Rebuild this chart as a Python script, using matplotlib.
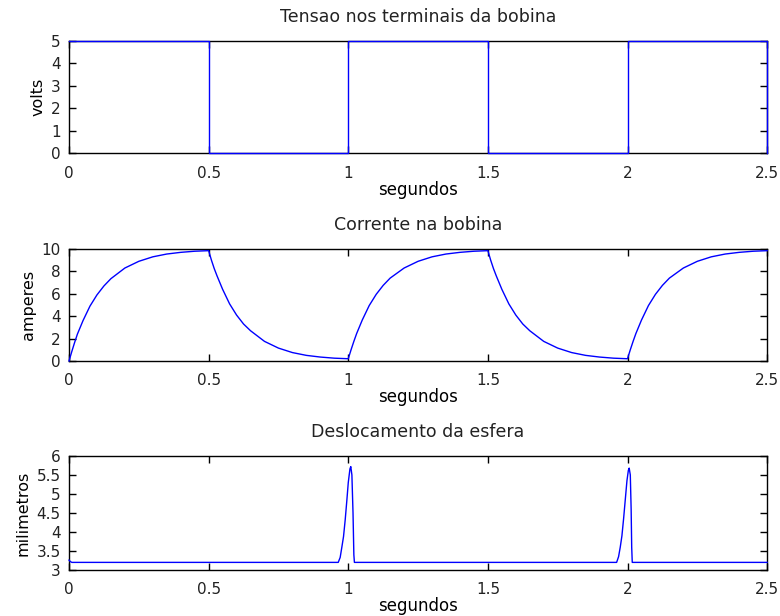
import numpy as np
import matplotlib
matplotlib.use("Agg")
import matplotlib.pyplot as plt

# Tensao aplicada na bobina (onda quadrada)
t_tensao = [0, 0.5, 0.5, 1.0, 1.0, 1.5, 1.5, 2.0, 2.0, 2.5, 2.5]
tensao = [5, 5, 0, 0, 5, 5, 0, 0, 5, 5, 0]

# Corrente na bobina
t_corrente = [0, 0.01, 0.02, 0.03, 0.05, 0.075, 0.1, 0.125, 0.15, 0.2, 0.25, 0.3, 0.35, 0.4, 0.45, 0.5,
              0.51, 0.52, 0.53, 0.55, 0.575, 0.6, 0.625, 0.65, 0.7, 0.75, 0.8, 0.85, 0.9, 0.95, 1.0,
              1.01, 1.02, 1.03, 1.05, 1.075, 1.1, 1.125, 1.15, 1.2, 1.25, 1.3, 1.35, 1.4, 1.45, 1.5,
              1.51, 1.52, 1.53, 1.55, 1.575, 1.6, 1.625, 1.65, 1.7, 1.75, 1.8, 1.85, 1.9, 1.95, 2.0,
              2.01, 2.02, 2.03, 2.05, 2.075, 2.1, 2.125, 2.15, 2.2, 2.25, 2.3, 2.35, 2.4, 2.45, 2.5]
corrente = [0, 0.85, 1.65, 2.4, 3.6, 4.9, 5.9, 6.7, 7.35, 8.3, 8.9, 9.3, 9.55, 9.7, 9.8, 9.85,
            9.0, 8.25, 7.6, 6.4, 5.1, 4.1, 3.3, 2.7, 1.75, 1.15, 0.75, 0.5, 0.35, 0.25, 0.2,
            1.0, 1.75, 2.45, 3.65, 4.95, 5.95, 6.75, 7.4, 8.3, 8.9, 9.3, 9.55, 9.7, 9.8, 9.85,
            9.0, 8.25, 7.6, 6.4, 5.1, 4.1, 3.3, 2.7, 1.75, 1.15, 0.75, 0.5, 0.35, 0.25, 0.2,
            1.0, 1.75, 2.45, 3.65, 4.95, 5.95, 6.75, 7.4, 8.3, 8.9, 9.3, 9.55, 9.7, 9.8, 9.85]

# Deslocamento da esfera
t_desloc = [0, 0.005, 0.01, 0.964, 0.971, 0.977, 0.983, 0.989, 0.995, 1.0, 1.006, 1.009,
            1.013, 1.017, 1.020, 1.022, 1.961, 1.968, 1.974, 1.980, 1.986, 1.992, 1.998,
            2.003, 2.006, 2.010, 2.013, 2.015, 2.017, 2.5]
desloc = [3.26, 3.22, 3.2, 3.2, 3.33, 3.6, 3.88, 4.32, 4.84, 5.3, 5.66, 5.72,
          5.5, 4.5, 3.4, 3.2, 3.2, 3.35, 3.6, 3.9, 4.35, 4.85, 5.35,
          5.62, 5.68, 5.5, 4.6, 3.6, 3.2, 3.2]

plt.rcParams['font.family'] = 'DejaVu Sans'
plt.rcParams['text.color'] = '#222222'

fig = plt.figure(figsize=(7.8, 6.16), dpi=100)

x_ticks = [0, 0.5, 1, 1.5, 2, 2.5]
x_labels = ["0", "0.5", "1", "1.5", "2", "2.5"]

paineis = [
    ([0.0885, 0.7516, 0.895, 0.1818], t_tensao, tensao, "Tensao nos terminais da bobina", "volts",
     (0, 5), [0, 1, 2, 3, 4, 5], ["0", "1", "2", "3", "4", "5"]),
    ([0.0885, 0.4140, 0.895, 0.1818], t_corrente, corrente, "Corrente na bobina", "amperes",
     (0, 10), [0, 2, 4, 6, 8, 10], ["0", "2", "4", "6", "8", "10"]),
    ([0.0885, 0.0747, 0.895, 0.1851], t_desloc, desloc, "Deslocamento da esfera", "milimetros",
     (3, 6), [3, 3.5, 4, 4.5, 5, 5.5, 6], ["3", "3.5", "4", "4.5", "5", "5.5", "6"]),
]

for rect, x, y, titulo, ylab, ylim, yt, ytl in paineis:
    ax = fig.add_axes(rect)
    ax.plot(x, y, color=(0, 0, 1), linewidth=1.0, clip_on=False, zorder=3)
    ax.set_xlim(0, 2.5)
    ax.set_ylim(*ylim)
    ax.set_xticks(x_ticks)
    ax.set_xticklabels(x_labels)
    ax.set_yticks(yt)
    ax.set_yticklabels(ytl)
    ax.tick_params(direction='in', length=5, width=1, top=True, right=True,
                   labelsize=11, labelcolor='#222222')
    ax.tick_params(axis='x', pad=9)
    ax.tick_params(axis='y', pad=6)
    for s in ax.spines.values():
        s.set_linewidth(1.0)
    ax.set_title(titulo, fontsize=12.5, pad=14)
    ax.set_xlabel("segundos", fontsize=12, labelpad=0)
    ax.set_ylabel(ylab, fontsize=11.5, labelpad=4)

fig.savefig("out.png", dpi=100)
